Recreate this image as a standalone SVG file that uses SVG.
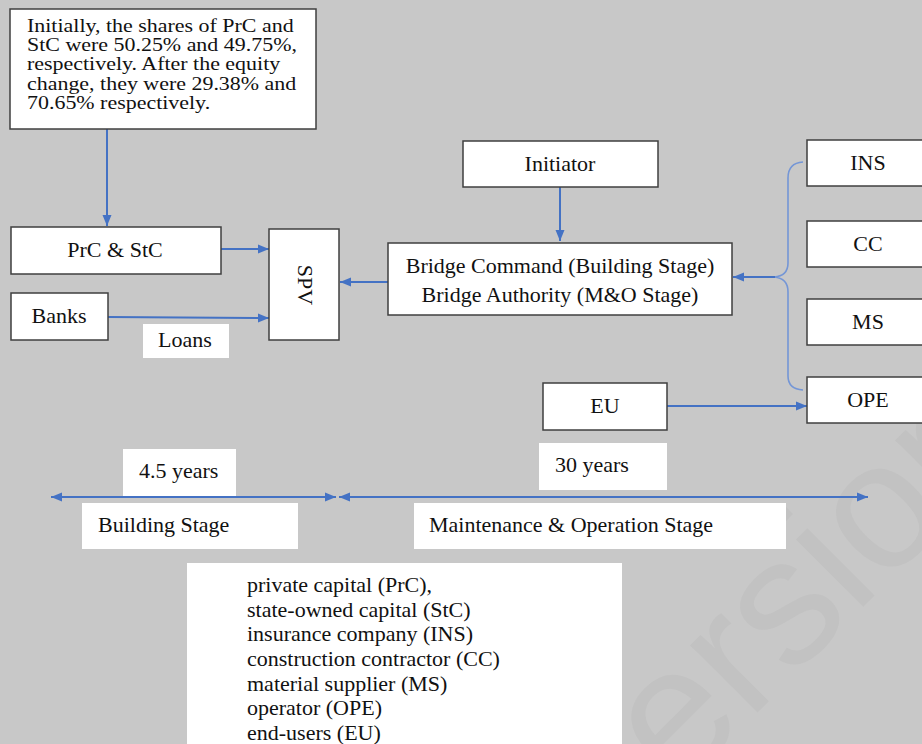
<svg xmlns="http://www.w3.org/2000/svg" width="922" height="744" viewBox="0 0 922 744">
<style>
  text { font-family: "Liberation Serif", "Times New Roman", serif; font-size: 22px; fill: #111; }
  .box { fill: #fff; stroke: #3f3f3f; stroke-width: 1.5; }
  .plain { fill: #fff; stroke: none; }
  .conn { stroke: #4472c4; stroke-width: 2; fill: none; }
  .brace { stroke: #7496d6; stroke-width: 1.6; fill: none; }
  .mid { text-anchor: middle; }
  .para { font-size: 19.6px; }
  .wm { font-family: "Liberation Sans", Arial, sans-serif; font-size: 180px; fill: #c2c2c2; }
</style>
<defs>
  <marker id="ah" markerUnits="userSpaceOnUse" markerWidth="12" markerHeight="10" refX="11" refY="5" orient="auto-start-reverse" viewBox="0 0 12 10">
    <path d="M0,0.5 L11,5 L0,9.5 Z" fill="#4472c4"/>
  </marker>
</defs>
<rect x="0" y="0" width="922" height="744" fill="#c8c8c8"/>
<text class="wm" transform="translate(600,870) rotate(-45)">Version</text>

<g id="connectors">
  <line class="conn" x1="107" y1="129" x2="107" y2="226" marker-end="url(#ah)"/>
  <line class="conn" x1="221" y1="249" x2="269" y2="249" marker-end="url(#ah)"/>
  <line class="conn" x1="108" y1="317" x2="269" y2="318" marker-end="url(#ah)"/>
  <line class="conn" x1="388" y1="282" x2="340" y2="282" marker-end="url(#ah)"/>
  <line class="conn" x1="560" y1="187" x2="560" y2="241" marker-end="url(#ah)"/>
  <path class="brace" d="M803,162 Q788,163 788,178 L788,263 Q788,276 774,277 Q788,278 788,292 L788,376 Q788,389 803,390"/>
  <line class="conn" x1="775" y1="277" x2="733" y2="277" marker-end="url(#ah)"/>
  <line class="conn" x1="667" y1="406" x2="807" y2="406" marker-end="url(#ah)"/>
  <line class="conn" x1="51" y1="497" x2="336" y2="497" marker-start="url(#ah)" marker-end="url(#ah)"/>
  <line class="conn" x1="339" y1="497" x2="868" y2="497" marker-start="url(#ah)" marker-end="url(#ah)"/>
</g>

<g id="note">
  <rect class="box" x="10" y="9" width="306" height="120"/>
  <g transform="scale(1.12,1)">
    <text class="para" x="24.1" y="32">Initially, the shares of PrC and</text>
    <text class="para" x="24.1" y="51.2">StC were 50.25% and 49.75%,</text>
    <text class="para" x="24.1" y="70.4">respectively. After the equity</text>
    <text class="para" x="24.1" y="89.6">change, they were 29.38% and</text>
    <text class="para" x="24.1" y="108.8">70.65% respectively.</text>
  </g>
</g>
<g id="prc-stc">
  <rect class="box" x="11" y="227" width="210" height="47"/>
  <text class="mid" x="115" y="257">PrC &amp; StC</text>
</g>
<g id="banks">
  <rect class="box" x="11" y="293" width="97" height="47"/>
  <text class="mid" x="59" y="323">Banks</text>
</g>
<g id="loans">
  <rect class="plain" x="143" y="324" width="86" height="34"/>
  <text class="mid" x="185" y="347">Loans</text>
</g>
<g id="spv">
  <rect class="box" x="269" y="229" width="70" height="111"/>
  <text class="mid" transform="translate(298,285) rotate(90)">SPV</text>
</g>
<g id="initiator">
  <rect class="box" x="463" y="141" width="195" height="46"/>
  <text class="mid" x="560" y="171">Initiator</text>
</g>
<g id="bridge">
  <rect class="box" x="388" y="243" width="344" height="72"/>
  <text class="mid" x="560" y="273">Bridge Command (Building Stage)</text>
  <text class="mid" x="560" y="302">Bridge Authority (M&amp;O Stage)</text>
</g>
<g id="ins">
  <rect class="box" x="807" y="140" width="130" height="46"/>
  <text class="mid" x="868" y="170">INS</text>
</g>
<g id="cc">
  <rect class="box" x="807" y="221" width="130" height="46"/>
  <text class="mid" x="868" y="251">CC</text>
</g>
<g id="ms">
  <rect class="box" x="807" y="299" width="130" height="46"/>
  <text class="mid" x="868" y="329">MS</text>
</g>
<g id="ope">
  <rect class="box" x="807" y="377" width="130" height="46"/>
  <text class="mid" x="868" y="407">OPE</text>
</g>
<g id="eu">
  <rect class="box" x="543" y="383" width="124" height="47"/>
  <text class="mid" x="605" y="413">EU</text>
</g>
<g id="years30">
  <rect class="plain" x="539" y="443" width="128" height="47"/>
  <text x="555" y="472">30 years</text>
</g>
<g id="years45">
  <rect class="plain" x="123" y="449" width="113" height="47"/>
  <text x="139" y="478">4.5 years</text>
</g>
<g id="building-stage">
  <rect class="plain" x="82" y="503" width="216" height="46"/>
  <text x="98" y="532">Building Stage</text>
</g>
<g id="mo-stage">
  <rect class="plain" x="414" y="503" width="372" height="46"/>
  <text x="429" y="532">Maintenance &amp; Operation Stage</text>
</g>
<g id="legend">
  <rect class="plain" x="187" y="563" width="435" height="190"/>
  <text x="247" y="592">private capital (PrC),</text>
  <text x="247" y="617">state-owned capital (StC)</text>
  <text x="247" y="641">insurance company (INS)</text>
  <text x="247" y="666">construction contractor (CC)</text>
  <text x="247" y="691">material supplier (MS)</text>
  <text x="247" y="715">operator (OPE)</text>
  <text x="247" y="740">end-users (EU)</text>
</g>
</svg>
